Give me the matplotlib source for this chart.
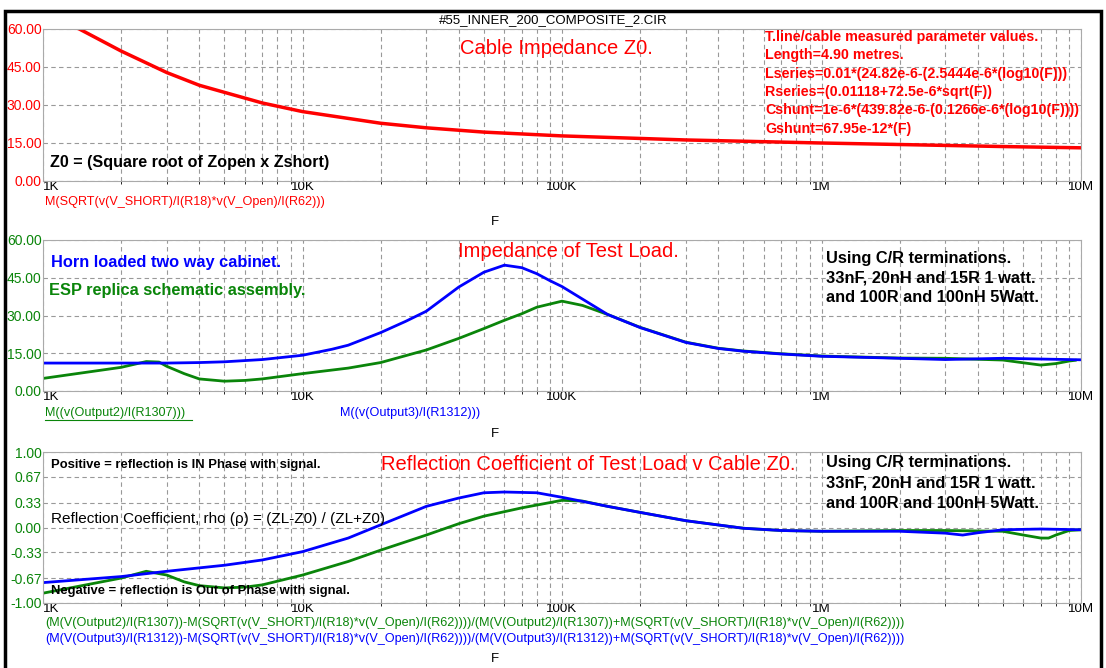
import numpy as np
import matplotlib.pyplot as plt
from matplotlib.patches import Rectangle

plt.rcParams['font.family'] = ['Liberation Sans', 'DejaVu Sans']

# frequencies (Hz) and values
f_z0 = [1000, 1200, 1380, 2000, 3000, 4000, 5000, 7000, 10e3, 20e3, 30e3, 50e3, 100e3,
        200e3, 300e3, 500e3, 1e6, 2e6, 5e6, 10e6]
z0 = [66, 62.5, 60, 51.3, 42.8, 37.8, 35, 30.8, 27.4, 22.8, 21, 19.3, 17.8,
      16.8, 16.2, 15.7, 15.0, 14.4, 13.6, 13.1]

f_horn = [1000, 2000, 3000, 4000, 5000, 7000, 10e3, 13e3, 15e3, 20e3, 25e3, 30e3, 40e3,
          50e3, 60e3, 70e3, 80e3, 90e3, 100e3, 150e3, 200e3, 300e3, 400e3, 500e3, 700e3,
          1e6, 2e6, 3e6, 5e6, 7e6, 10e6]
z_horn = [11.1, 11.1, 11.1, 11.3, 11.6, 12.5, 14.2, 16.6, 18.2, 23.2, 27.7, 31.7, 41.3,
          47.2, 50, 49, 46.6, 43.8, 41.5, 30.4, 25.2, 19.3, 16.9, 15.8, 14.7,
          13.8, 13, 12.5, 13, 12.7, 12.4]

f_esp = [1000, 2000, 2500, 2800, 3000, 3500, 4000, 5000, 6000, 7000, 10e3, 15e3, 20e3,
         30e3, 40e3, 50e3, 60e3, 70e3, 80e3, 100e3, 120e3, 150e3, 200e3, 300e3, 400e3,
         500e3, 700e3, 1e6, 2e6, 3e6, 5e6, 6e6, 7e6, 8e6, 9e6, 9.5e6]
z_esp = [5, 9.4, 11.7, 11.5, 9.8, 6.9, 4.8, 3.9, 4.2, 4.8, 6.9, 9.1, 11.3,
         16.3, 20.9, 24.8, 28.1, 30.7, 33.3, 35.7, 34, 30.4, 25.3, 19.4, 17,
         15.9, 14.8, 13.9, 13.1, 13, 12.3, 11.2, 10.3, 10.9, 11.9, 12.2]

f_rho_h = [1000, 2000, 3000, 5000, 7000, 10e3, 15e3, 20e3, 30e3, 40e3, 50e3, 60e3, 80e3,
           100e3, 150e3, 200e3, 300e3, 500e3, 700e3, 1e6, 2e6, 3e6, 3.5e6, 4e6, 5e6, 7e6, 10e6]
rho_horn = [-0.73, -0.65, -0.58, -0.50, -0.43, -0.32, -0.14, 0.035, 0.28, 0.39, 0.46, 0.47, 0.46,
            0.40, 0.28, 0.20, 0.09, -0.01, -0.04, -0.05, -0.05, -0.075, -0.1, -0.07, -0.03, -0.02, -0.03]

f_rho_e = [1000, 2000, 2500, 3000, 3500, 4000, 5000, 6000, 7000, 10e3, 15e3, 20e3, 30e3,
           40e3, 50e3, 70e3, 100e3, 120e3, 150e3, 200e3, 300e3, 500e3, 700e3, 1e6, 2e6,
           3e6, 5e6, 6e6, 7e6, 7.5e6, 8e6, 9e6, 10e6]
rho_esp = [-0.87, -0.67, -0.58, -0.63, -0.72, -0.77, -0.80, -0.79, -0.76, -0.63, -0.45, -0.30, -0.10,
           0.05, 0.15, 0.26, 0.36, 0.35, 0.28, 0.20, 0.09, -0.01, -0.04, -0.05, -0.04,
           -0.04, -0.05, -0.1, -0.14, -0.14, -0.1, -0.04, -0.03]

dec_ticks = [1e3, 1e4, 1e5, 1e6, 1e7]
dec_labels = ['1K', '10K', '100K', '1M', '10M']
RED, BLUE, GREEN = '#ff0000', '#0000ff', '#0a850a'

W, H = 1106, 668
fig = plt.figure(figsize=(W / 100, H / 100), dpi=100)
fig.patches.append(Rectangle((5 / W, -0.01), 1096 / W, 1 - 11 / H + 0.01, transform=fig.transFigure,
                             fill=False, edgecolor='black', linewidth=2.5))
fig.text(553 / W, 1 - 20 / H, '#55_INNER_200_COMPOSITE_2.CIR', ha='center', va='center', fontsize=9.5)


def make_axes(top, bottom, yticks, ylabels, tick_color):
    ax = fig.add_axes([43 / W, 1 - bottom / H, 1038 / W, (bottom - top) / H])
    ax.set_xscale('log')
    ax.set_xlim(1e3, 1e7)
    ax.set_ylim(yticks[0], yticks[-1])
    ax.set_yticks(yticks)
    ax.set_yticklabels(ylabels, color=tick_color, fontsize=10)
    ax.set_xticks(dec_ticks)
    ax.set_xticklabels(dec_labels, fontsize=9.6)
    ax.get_xticklabels()[0].set_horizontalalignment('left')
    ax.tick_params(axis='x', length=0, pad=0)
    ax.tick_params(axis='y', length=0, pad=1)
    ax.grid(True, which='both', axis='x', linestyle=(0, (4, 3)), color='#999999', linewidth=0.8)
    ax.grid(True, which='major', axis='y', linestyle=(0, (4, 3)), color='#999999', linewidth=0.8)
    for s in ax.spines.values():
        s.set_color('#aaaaaa')
    return ax


def label_below(y_px, text, color, x_px=45):
    return fig.text(x_px / W, 1 - y_px / H, text, color=color, fontsize=9.1, va='center', ha='left')


def axes_text(ax, x_px, y_px, top, bottom, text, **kw):
    ax.text((x_px - 43) / 1038, (bottom - y_px) / (bottom - top), text, transform=ax.transAxes,
            va='center', ha='left', **kw)


using = ['Using C/R terminations.', '33nF, 20nH and 15R 1 watt.', 'and 100R and 100nH 5Watt.']

# top: cable impedance
ax1 = make_axes(29, 181, [0, 15, 30, 45, 60], ['0.00', '15.00', '30.00', '45.00', '60.00'], RED)
ax1.plot(f_z0, z0, color=RED, lw=2.5)
axes_text(ax1, 460, 48, 29, 181, 'Cable Impedance Z0.', color=RED, fontsize=14.5)
params = ['T.line/cable measured parameter values.', 'Length=4.90 metres.',
          'Lseries=0.01*(24.82e-6-(2.5444e-6*(log10(F)))',
          'Rseries=(0.01118+72.5e-6*sqrt(F))',
          'Cshunt=1e-6*(439.82e-6-(0.1266e-6*(log10(F))))',
          'Gshunt=67.95e-12*(F)']
for i, p in enumerate(params):
    axes_text(ax1, 765, 37 + 18.3 * i, 29, 181, p, color=RED, fontsize=10.3, fontweight='bold')
axes_text(ax1, 50, 162, 29, 181, 'Z0 = (Square root of Zopen x Zshort)', fontsize=11.6, fontweight='bold')
label_below(202, 'M(SQRT(v(V_SHORT)/I(R18)*v(V_Open)/I(R62)))', RED)
fig.text(495 / W, 1 - 222 / H, 'F', fontsize=9.5, ha='center', va='center')

# middle: impedance of test load
ax2 = make_axes(240, 391, [0, 15, 30, 45, 60], ['0.00', '15.00', '30.00', '45.00', '60.00'], GREEN)
ax2.plot(f_esp, z_esp, color=GREEN, lw=2)
ax2.plot(f_horn, z_horn, color=BLUE, lw=2)
axes_text(ax2, 458, 252, 240, 391, 'Impedance of Test Load.', color=RED, fontsize=14.5)
axes_text(ax2, 51, 263, 240, 391, 'Horn loaded two way cabinet.', color=BLUE, fontsize=11.8, fontweight='bold')
axes_text(ax2, 49, 291, 240, 391, 'ESP replica schematic assembly.', color=GREEN, fontsize=11.8,
          fontweight='bold')
for i, u in enumerate(using):
    axes_text(ax2, 826, 258 + 20 * i, 240, 391, u, fontsize=11.8, fontweight='bold')
label_below(413, 'M((v(Output2)/I(R1307)))', GREEN)
fig.add_artist(plt.Line2D([45 / W, 192 / W], [1 - 420 / H, 1 - 420 / H], color=GREEN, lw=0.8))
label_below(413, 'M((v(Output3)/I(R1312)))', BLUE, x_px=340)
fig.text(495 / W, 1 - 434 / H, 'F', fontsize=9.5, ha='center', va='center')

# bottom: reflection coefficient
ax3 = make_axes(452, 603, [-1, -0.67, -0.33, 0, 0.33, 0.67, 1],
                ['-1.00', '-0.67', '-0.33', '0.00', '0.33', '0.67', '1.00'], GREEN)
ax3.plot(f_rho_e, rho_esp, color=GREEN, lw=2)
ax3.plot(f_rho_h, rho_horn, color=BLUE, lw=2)
axes_text(ax3, 381, 465, 452, 603, 'Reflection Coefficient of Test Load v Cable Z0.', color=RED, fontsize=14.5)
axes_text(ax3, 51, 465, 452, 603, 'Positive = reflection is IN Phase with signal.', fontsize=9.4,
          fontweight='bold')
axes_text(ax3, 51, 519, 452, 603, 'Reflection Coefficient, rho (\u03c1) = (ZL-Z0) / (ZL+Z0)', fontsize=11)
axes_text(ax3, 51, 591, 452, 603, 'Negative = reflection is Out of Phase with signal.', fontsize=9.4,
          fontweight='bold')
for i, u in enumerate(using):
    axes_text(ax3, 826, 463 + 20 * i, 452, 603, u, fontsize=11.8, fontweight='bold')
label_below(623, '(M(V(Output2)/I(R1307))-M(SQRT(v(V_SHORT)/I(R18)*v(V_Open)/I(R62))))/'
            '(M(V(Output2)/I(R1307))+M(SQRT(v(V_SHORT)/I(R18)*v(V_Open)/I(R62))))', GREEN)
label_below(639, '(M(V(Output3)/I(R1312))-M(SQRT(v(V_SHORT)/I(R18)*v(V_Open)/I(R62))))/'
            '(M(V(Output3)/I(R1312))+M(SQRT(v(V_SHORT)/I(R18)*v(V_Open)/I(R62))))', BLUE)
fig.text(495 / W, 1 - 659 / H, 'F', fontsize=9.5, ha='center', va='center')

fig.savefig('out.png', dpi=100)
